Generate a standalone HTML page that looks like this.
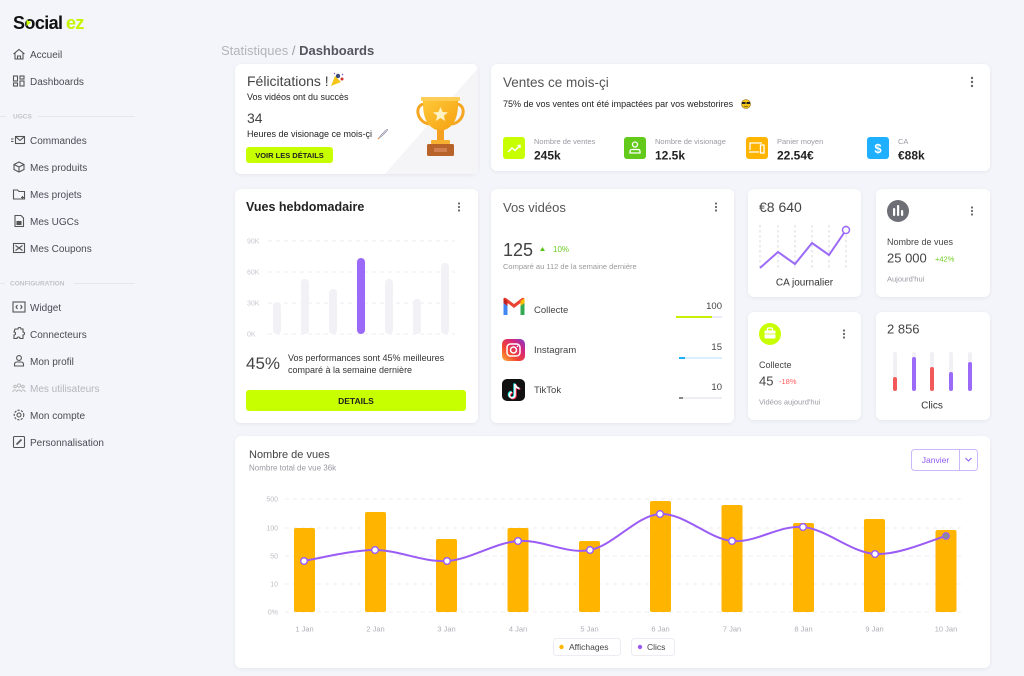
<!DOCTYPE html>
<html><head><meta charset="utf-8">
<style>
html,body{margin:0;padding:0;}
body{width:1024px;height:676px;background:#f4f5fa;position:relative;overflow:hidden;font-family:"Liberation Sans",sans-serif;}
.card{position:absolute;background:#fff;border-radius:6px;box-shadow:0 1px 4px rgba(40,40,80,0.07);}
svg{position:absolute;left:0;top:0;}
svg text{font-family:"Liberation Sans",sans-serif;}
</style></head>
<body>
<div class="card" style="left:235px;top:64px;width:243px;height:110px;overflow:hidden;"></div>
<div class="card" style="left:491px;top:64px;width:499px;height:107px;"></div>
<div class="card" style="left:235px;top:189px;width:243px;height:234px;"></div>
<div class="card" style="left:491px;top:189px;width:243px;height:234px;"></div>
<div class="card" style="left:748px;top:189px;width:113px;height:108px;"></div>
<div class="card" style="left:876px;top:189px;width:114px;height:108px;"></div>
<div class="card" style="left:748px;top:312px;width:113px;height:108px;"></div>
<div class="card" style="left:876px;top:312px;width:114px;height:108px;"></div>
<div class="card" style="left:235px;top:436px;width:755px;height:232px;"></div>

<svg width="1024" height="676" viewBox="0 0 1024 676">
<defs>
<linearGradient id="ig" x1="0" y1="1" x2="1" y2="0">
<stop offset="0" stop-color="#fdb33a"/><stop offset="0.35" stop-color="#f4462f"/><stop offset="0.7" stop-color="#d3257f"/><stop offset="1" stop-color="#7a3fc8"/>
</linearGradient>
<linearGradient id="gold" x1="0" y1="0" x2="1" y2="1">
<stop offset="0" stop-color="#ffc93a"/><stop offset="1" stop-color="#f5a00f"/>
</linearGradient>
</defs>

<!-- SIDEBAR -->
<text x="13" y="29" font-size="18" font-weight="bold" fill="#111" letter-spacing="-0.6">S<tspan fill="#111">o</tspan>cial</text>
<polygon points="26.5,19.5 26.5,26 31,22.8" fill="#c8ff00"/>
<text x="66" y="29" font-size="18" font-weight="bold" fill="#c6f500" letter-spacing="-0.6">ez</text>

<g fill="none" stroke="#555" stroke-width="1.1">
<!-- Accueil -->
<path d="M13.5,54 L19,49.5 L24.5,54 M15,53 V59 H23 V53 M17.5,59 V56 H20.5 V59"/>
<!-- Dashboards -->
<rect x="13.5" y="76" width="4" height="5"/><rect x="13.5" y="83" width="4" height="3"/><rect x="20" y="76" width="4" height="3"/><rect x="20" y="81" width="4" height="5"/>
<!-- Commandes -->
<rect x="15.5" y="136.5" width="9" height="7"/><path d="M15.5,136.5 L20,140.5 L24.5,136.5 M11,139 H13.5 M11,141.5 H13.5"/>
<!-- produits -->
<path d="M19,162 L24,164.5 V169.5 L19,172 L14,169.5 V164.5 Z M14,164.5 L19,167 L24,164.5 M19,167 V172"/>
<!-- projets -->
<path d="M13.5,190 H17.5 L19,191.5 H24.5 V199 H13.5 Z M22.5,196 v3 M21,197.5 h3"/>
<!-- UGCs -->
<path d="M15,215.5 H21 L23.5,218 V226.5 H15 Z"/><rect x="17" y="221.5" width="4" height="3" fill="#555"/>
<!-- Coupons -->
<rect x="13.5" y="243.5" width="11" height="9"/><path d="M15.5,245.5 L22.5,250.5 M22.5,245.5 L15.5,250.5"/>
<!-- Widget -->
<rect x="13" y="302" width="12" height="10"/><path d="M17.5,305 L16,307 L17.5,309 M20.5,305 L22,307 L20.5,309"/>
<!-- Connecteurs -->
<path d="M15,329 H18 A1.5,1.5 0 0 1 21,329 H23 V332 A1.5,1.5 0 0 1 23,335 V338.5 H20 A1.5,1.5 0 0 0 17,338.5 H14 V335 A1.5,1.5 0 0 0 14,332 Z"/>
<!-- Mon profil -->
<circle cx="19" cy="358" r="2.4"/><path d="M14.5,366 V364.5 Q14.5,362 17,362 H21 Q23.5,362 23.5,364.5 V366 Z"/>
</g>
<g fill="none" stroke="#bbb" stroke-width="1">
<circle cx="19" cy="385.5" r="1.6"/><circle cx="15" cy="386.5" r="1.3"/><circle cx="23" cy="386.5" r="1.3"/><path d="M16,392 Q19,388 22,392 M12.5,392 Q14,389.5 15.8,390 M25.5,392 Q24,389.5 22.2,390"/>
</g>
<g fill="none" stroke="#555" stroke-width="1.1">
<circle cx="19" cy="415" r="2"/><circle cx="19" cy="415" r="4.8" stroke-dasharray="2.2 1.3"/>
<rect x="13.5" y="436.5" width="11" height="11" rx="1"/><path d="M16.5,444.5 L21.5,439.5" stroke-width="1.6"/>
</g>

<g font-size="10" fill="#4b4b55">
<text x="30" y="58">Accueil</text>
<text x="30" y="85">Dashboards</text>
<text x="30" y="144">Commandes</text>
<text x="30" y="171">Mes produits</text>
<text x="30" y="198">Mes projets</text>
<text x="30" y="225">Mes UGCs</text>
<text x="30" y="252">Mes Coupons</text>
<text x="30" y="311">Widget</text>
<text x="30" y="338">Connecteurs</text>
<text x="30" y="365">Mon profil</text>
<text x="30" y="392" fill="#b5b5bd">Mes utilisateurs</text>
<text x="30" y="419">Mon compte</text>
<text x="30" y="446">Personnalisation</text>
</g>
<g font-size="6.5" fill="#c2c2c8" font-weight="bold">
<text x="13" y="118.5">UGCS</text>
<text x="10" y="285.5">CONFIGURATION</text>
</g>
<g stroke="#e6e6ec" stroke-width="1">
<line x1="0" y1="116.5" x2="6" y2="116.5"/><line x1="38" y1="116.5" x2="135" y2="116.5"/>
<line x1="0" y1="283.5" x2="5" y2="283.5"/><line x1="74" y1="283.5" x2="135" y2="283.5"/>
</g>

<!-- Breadcrumb -->
<text x="221" y="55" font-size="13" fill="#b3b3bb">Statistiques <tspan fill="#9a9aa3">/</tspan> <tspan fill="#55555e" font-weight="bold">Dashboards</tspan></text>

<!-- CARD 1 -->
<polygon points="385,174 478,174 478,68" fill="#f5f5f8"/>
<text x="247" y="86" font-size="14" fill="#444">Félicitations !</text>
<g transform="translate(331,73)">
<polygon points="0,13 4,3 10,9" fill="#f5c518"/><circle cx="7" cy="3" r="2.2" fill="#3a4a7a"/><circle cx="11" cy="6" r="1.5" fill="#d03030"/><path d="M3,1 l1,-1 M11,1 l1,1" stroke="#7a3fc8" stroke-width="1"/>
</g>
<text x="247" y="100" font-size="9" fill="#222">Vos vidéos ont du succès</text>
<text x="247" y="123" font-size="14" fill="#444">34</text>
<text x="247" y="137" font-size="9" fill="#222">Heures de visionage ce mois-çi</text>
<g transform="translate(378,129)">
<path d="M1,9 L3,6 L7,2 Q9,0 9.5,0.5 Q10,1 8,3 L4,7 Z" fill="#dde" stroke="#8a8aa0" stroke-width="0.6"/><path d="M1,9 L0,10" stroke="#f09030" stroke-width="1.5"/>
</g>
<rect x="246" y="147" width="87" height="16" rx="3" fill="#c8ff00"/>
<text x="289.5" y="158" font-size="7.5" font-weight="bold" fill="#222" text-anchor="middle">VOIR LES DÉTAILS</text>
<!-- trophy -->
<g>
<path d="M425,104 C414,104 416,122 429,124" fill="none" stroke="#f5a623" stroke-width="3"/>
<path d="M456,104 C467,104 465,122 452,124" fill="none" stroke="#f5a623" stroke-width="3"/>
<path d="M423,99 H458 V104 Q458,128 440.5,131 Q423,128 423,104 Z" fill="url(#gold)"/>
<rect x="421" y="97" width="39" height="4" rx="1" fill="#ffcc55"/>
<polygon points="440.5,107 442.6,112 448,112.4 443.8,115.7 445.2,121 440.5,118 435.8,121 437.2,115.7 433,112.4 438.4,112" fill="#fff3c4"/>
<rect x="437" y="130" width="7" height="11" fill="#f5a020"/>
<rect x="431" y="140" width="19" height="4" rx="1" fill="#f7b030"/>
<rect x="427" y="144" width="27" height="12" rx="1.5" fill="#b8632a"/>
<rect x="434" y="148" width="13" height="4" fill="#d08050"/>
</g>

<!-- CARD 2 -->
<text x="503" y="87" font-size="13.5" fill="#555">Ventes ce mois-çi</text>
<g fill="#666"><circle cx="972" cy="78" r="1.2"/><circle cx="972" cy="82" r="1.2"/><circle cx="972" cy="86" r="1.2"/></g>
<text x="503" y="107" font-size="9" fill="#222">75% de vos ventes ont été impactées par vos webstorires</text>
<g transform="translate(746,104)"><circle r="4.5" fill="#f5c518" stroke="#8a6a10" stroke-width="0.6"/><rect x="-4" y="-2" width="3.5" height="2" fill="#222"/><rect x="0.5" y="-2" width="3.5" height="2" fill="#222"/><path d="M-2,2 Q0,3.5 2,2" stroke="#6a4a00" stroke-width="0.7" fill="none"/></g>
<rect x="503" y="137" width="22" height="22" rx="3" fill="#c8ff00"/>
<path d="M508,152 L512,148 L515,150.5 L520,145.5 M517.5,145.5 H520 V148" fill="none" stroke="#fff" stroke-width="1.4"/>
<rect x="624" y="137" width="22" height="22" rx="3" fill="#63c91b"/>
<circle cx="635" cy="144.5" r="2.5" fill="none" stroke="#fff" stroke-width="1.3"/><path d="M630,153 V151.5 Q630,149.5 632,149.5 H638 Q640,149.5 640,151.5 V153 Z" fill="none" stroke="#fff" stroke-width="1.3"/>
<rect x="746" y="137" width="22" height="22" rx="3" fill="#ffb400"/>
<path d="M750,150 V143 H762 M749,152 H759 M760.5,145 H764 V153 H760.5 Z" fill="none" stroke="#fff" stroke-width="1.3"/>
<rect x="867" y="137" width="22" height="22" rx="3" fill="#1eb0ff"/>
<text x="878" y="153" font-size="13" font-weight="bold" fill="#fff" text-anchor="middle">$</text>
<g font-size="7.5" fill="#9a9aa3">
<text x="534" y="144">Nombre de ventes</text>
<text x="655" y="144">Nombre de visionage</text>
<text x="777" y="144">Panier moyen</text>
<text x="898" y="144">CA</text>
</g>
<g font-size="12" font-weight="bold" fill="#222">
<text x="534" y="159.5">245k</text>
<text x="655" y="159.5">12.5k</text>
<text x="777" y="159.5">22.54€</text>
<text x="898" y="159.5">€88k</text>
</g>

<!-- CARD 3 -->
<text x="246" y="211" font-size="12.5" font-weight="bold" fill="#222">Vues hebdomadaire</text>
<g fill="#666"><circle cx="459" cy="203.5" r="1.1"/><circle cx="459" cy="207" r="1.1"/><circle cx="459" cy="210.5" r="1.1"/></g>
<g font-size="7" fill="#c8c8d0">
<text x="247" y="243.5">90K</text><text x="247" y="274.5">60K</text><text x="247" y="305.5">30K</text><text x="247" y="336.5">0K</text>
</g>
<g stroke="#eeeef3" stroke-dasharray="4 4" stroke-width="1">
<line x1="268" y1="241" x2="455" y2="241"/><line x1="268" y1="272" x2="455" y2="272"/><line x1="268" y1="303" x2="455" y2="303"/><line x1="268" y1="334" x2="455" y2="334"/>
</g>
<g fill="#f1f1f6">
<rect x="273" y="302" width="8" height="32" rx="4"/>
<rect x="301" y="279" width="8" height="55" rx="4"/>
<rect x="329" y="289" width="8" height="45" rx="4"/>
<rect x="385" y="279" width="8" height="55" rx="4"/>
<rect x="413" y="299" width="8" height="35" rx="4"/>
<rect x="441" y="263" width="8" height="71" rx="4"/>
</g>
<rect x="357" y="258" width="8" height="76" rx="4" fill="#9b6af8"/>
<text x="246" y="369" font-size="17" fill="#444">45%</text>
<text x="288" y="361" font-size="9" fill="#333">Vos performances sont 45% meilleures</text>
<text x="288" y="373" font-size="9" fill="#333">comparé à la semaine dernière</text>
<rect x="246" y="390" width="220" height="21" rx="3" fill="#c8ff00"/>
<text x="356" y="404" font-size="8.5" font-weight="bold" fill="#222" text-anchor="middle">DETAILS</text>

<!-- CARD 4 -->
<text x="503" y="212" font-size="13" fill="#555">Vos vidéos</text>
<g fill="#666"><circle cx="716" cy="203.5" r="1.1"/><circle cx="716" cy="207" r="1.1"/><circle cx="716" cy="210.5" r="1.1"/></g>
<text x="503" y="256" font-size="18" fill="#444">125</text>
<polygon points="540,251 545,251 542.5,247" fill="#5cc41a"/>
<text x="553" y="252" font-size="8" fill="#6dcc22">10%</text>
<text x="503" y="269" font-size="7.5" fill="#999">Comparé au 112 de la semaine dernière</text>
<!-- gmail -->
<g>
<path d="M503.5,300 V315 H507.5 V304.5" fill="#4285f4"/>
<path d="M520.5,304.5 V315 H524.5 V300" fill="#34a853"/>
<path d="M503.5,300 Q503.5,297 506,298 L514,304 L522,298 Q524.5,297 524.5,300 L514,308 Z" fill="#ea4335"/>
<path d="M520.5,301 L524.5,298 V303 L520.5,306 Z" fill="#fbbc04"/>
<path d="M503.5,298 L507.5,301 V306 L503.5,303 Z" fill="#c5221f"/>
</g>
<text x="534" y="313" font-size="9.5" fill="#444">Collecte</text>
<text x="722" y="309" font-size="9.5" fill="#444" text-anchor="end">100</text>
<rect x="676" y="316" width="46" height="2" fill="#ece8fa"/><rect x="676" y="316" width="36" height="2" fill="#c8f000"/>
<!-- instagram -->
<rect x="502" y="339" width="23" height="22" rx="5" fill="url(#ig)"/>
<rect x="507" y="344" width="13" height="12" rx="3.5" fill="none" stroke="#fff" stroke-width="1.5"/>
<circle cx="513.5" cy="350" r="3" fill="none" stroke="#fff" stroke-width="1.5"/><circle cx="517.5" cy="346.3" r="0.8" fill="#fff"/>
<text x="534" y="353" font-size="9.5" fill="#444">Instagram</text>
<text x="722" y="350" font-size="9.5" fill="#444" text-anchor="end">15</text>
<rect x="679" y="357" width="43" height="2" fill="#d9f0fe"/><rect x="679" y="357" width="6" height="2" fill="#1eb0ff"/>
<!-- tiktok -->
<rect x="502" y="379" width="23" height="22" rx="5" fill="#111"/>
<path d="M515,384 V395 A2.8,2.8 0 1 1 512,392.3 M515,384 Q516,388 519.5,388.5" fill="none" stroke="#25f4ee" stroke-width="1.8" transform="translate(-0.8,-0.6)"/>
<path d="M515,384 V395 A2.8,2.8 0 1 1 512,392.3 M515,384 Q516,388 519.5,388.5" fill="none" stroke="#fe2c55" stroke-width="1.8" transform="translate(0.8,0.6)"/>
<path d="M515,384 V395 A2.8,2.8 0 1 1 512,392.3 M515,384 Q516,388 519.5,388.5" fill="none" stroke="#fff" stroke-width="1.6"/>
<text x="534" y="393" font-size="9.5" fill="#444">TikTok</text>
<text x="722" y="390" font-size="9.5" fill="#444" text-anchor="end">10</text>
<rect x="679" y="397" width="43" height="2" fill="#eeeef2"/><rect x="679" y="397" width="4" height="2" fill="#888"/>

<!-- CARD 5 -->
<text x="759" y="212" font-size="14" fill="#444">€8 640</text>
<g stroke="#cfcfd6" stroke-dasharray="2.5 2.5" stroke-width="0.8">
<line x1="760" y1="225" x2="760" y2="268"/><line x1="778" y1="225" x2="778" y2="268"/><line x1="795" y1="225" x2="795" y2="268"/><line x1="812" y1="225" x2="812" y2="268"/><line x1="829" y1="225" x2="829" y2="268"/><line x1="846" y1="225" x2="846" y2="268"/>
</g>
<polyline points="760,268 778,252 795,264 812,243 829,255 846,230" fill="none" stroke="#9b6af8" stroke-width="2" stroke-linejoin="round"/>
<circle cx="846" cy="230" r="3.5" fill="#fff" stroke="#9b6af8" stroke-width="1.5"/>
<text x="804.5" y="285.5" font-size="10" fill="#333" text-anchor="middle">CA journalier</text>

<!-- CARD 6 -->
<circle cx="898" cy="211" r="11" fill="#6e6e76"/>
<g fill="#fff"><rect x="893" y="208" width="2.2" height="8" rx="1"/><rect x="897" y="205" width="2.2" height="11" rx="1"/><rect x="901" y="210" width="2.2" height="6" rx="1"/></g>
<g fill="#666"><circle cx="972" cy="207.5" r="1.1"/><circle cx="972" cy="211" r="1.1"/><circle cx="972" cy="214.5" r="1.1"/></g>
<text x="887" y="245" font-size="9" fill="#444">Nombre de vues</text>
<text x="887" y="262.5" font-size="13" fill="#444">25 000</text>
<text x="935" y="261.5" font-size="7.5" fill="#6dcc22">+42%</text>
<text x="887" y="281.5" font-size="7.5" fill="#9a9aa3">Aujourd'hui</text>

<!-- CARD 7 -->
<circle cx="770" cy="334" r="11" fill="#c8ff00"/>
<rect x="764.5" y="330.5" width="11" height="8" rx="1" fill="#fff"/><rect x="767.5" y="328" width="5" height="3" rx="0.8" fill="none" stroke="#fff" stroke-width="1.2"/><line x1="764.5" y1="334" x2="775.5" y2="334" stroke="#c8ff00" stroke-width="0.8"/>
<g fill="#666"><circle cx="844" cy="330.5" r="1.1"/><circle cx="844" cy="334" r="1.1"/><circle cx="844" cy="337.5" r="1.1"/></g>
<text x="759" y="368" font-size="9" fill="#444">Collecte</text>
<text x="759" y="385.5" font-size="13" fill="#444">45</text>
<text x="779" y="384" font-size="7.5" fill="#ff5a5a">-18%</text>
<text x="759" y="404.5" font-size="7.5" fill="#9a9aa3">Vidéos aujourd'hui</text>

<!-- CARD 8 -->
<text x="887" y="333.5" font-size="13" fill="#444">2 856</text>
<g fill="#f0f0f5">
<rect x="893" y="352" width="4" height="39" rx="2"/><rect x="912" y="352" width="4" height="39" rx="2"/><rect x="930" y="352" width="4" height="39" rx="2"/><rect x="949" y="352" width="4" height="39" rx="2"/><rect x="968" y="352" width="4" height="39" rx="2"/>
</g>
<rect x="893" y="377" width="4" height="14" rx="2" fill="#f25a5a"/>
<rect x="912" y="357" width="4" height="34" rx="2" fill="#9b6af8"/>
<rect x="930" y="367" width="4" height="24" rx="2" fill="#f25a5a"/>
<rect x="949" y="372" width="4" height="19" rx="2" fill="#9b6af8"/>
<rect x="968" y="362" width="4" height="29" rx="2" fill="#9b6af8"/>
<text x="932" y="408.5" font-size="10" fill="#333" text-anchor="middle">Clics</text>

<!-- CARD 9 -->
<text x="249" y="458" font-size="11" fill="#444">Nombre de vues</text>
<text x="249" y="470.5" font-size="8" fill="#9a9aa3">Nombre total de vue 36k</text>
<rect x="911.5" y="449.5" width="66" height="21" rx="3" fill="#fff" stroke="#cbb8fb" stroke-width="1"/>
<line x1="959.5" y1="449.5" x2="959.5" y2="470.5" stroke="#cbb8fb"/>
<text x="935.5" y="463" font-size="8.5" fill="#8f5cf6" text-anchor="middle">Janvier</text>
<path d="M965.5,458 L968.5,461 L971.5,458" fill="none" stroke="#8f5cf6" stroke-width="1.1"/>
<g font-size="7" fill="#bcbcc4" text-anchor="end">
<text x="278" y="501.5">500</text><text x="278" y="530.5">100</text><text x="278" y="558.5">50</text><text x="278" y="586.5">10</text><text x="278" y="614.5">0%</text>
</g>
<g stroke="#ececf2" stroke-dasharray="4 4" stroke-width="1">
<line x1="285" y1="499" x2="963" y2="499"/><line x1="285" y1="528" x2="963" y2="528"/><line x1="285" y1="556" x2="963" y2="556"/><line x1="285" y1="584" x2="963" y2="584"/><line x1="285" y1="612" x2="963" y2="612"/>
</g>
<g fill="#ffb400">
<rect x="294" y="528" width="21" height="84" rx="2"/>
<rect x="365" y="512" width="21" height="100" rx="2"/>
<rect x="436" y="539" width="21" height="73" rx="2"/>
<rect x="507.5" y="528" width="21" height="84" rx="2"/>
<rect x="579" y="541" width="21" height="71" rx="2"/>
<rect x="650" y="501" width="21" height="111" rx="2"/>
<rect x="721.5" y="505" width="21" height="107" rx="2"/>
<rect x="793" y="523" width="21" height="89" rx="2"/>
<rect x="864" y="519" width="21" height="93" rx="2"/>
<rect x="935.5" y="530" width="21" height="82" rx="2"/>
</g>
<path d="M304,561 C315.8,559.2 351.2,550 375,550 C398.8,550 423.2,562.5 447,561 C470.8,559.5 494.2,542.8 518,541 C541.8,539.2 566.3,554.5 590,550 C613.7,545.5 636.3,515.5 660,514 C683.7,512.5 708.2,538.8 732,541 C755.8,543.2 779.2,524.8 803,527 C826.8,529.2 851.2,552.5 875,554 C898.8,555.5 934.2,539 946,536" fill="none" stroke="#9b5cf6" stroke-width="2"/>
<g fill="#fff" stroke="#9b5cf6" stroke-width="1.4">
<circle cx="304" cy="561" r="3.3"/><circle cx="375" cy="550" r="3.3"/><circle cx="447" cy="561" r="3.3"/><circle cx="518" cy="541" r="3.3"/><circle cx="590" cy="550" r="3.3"/><circle cx="660" cy="514" r="3.3"/><circle cx="732" cy="541" r="3.3"/><circle cx="803" cy="527" r="3.3"/><circle cx="875" cy="554" r="3.3"/>
</g>
<circle cx="946" cy="536" r="3.3" fill="#8a8a94" stroke="#9b5cf6" stroke-width="1.2"/>
<g font-size="7.5" fill="#aeaeb6" text-anchor="middle">
<text x="304.5" y="631.5">1 Jan</text><text x="375.5" y="631.5">2 Jan</text><text x="446.5" y="631.5">3 Jan</text><text x="518" y="631.5">4 Jan</text><text x="589.5" y="631.5">5 Jan</text><text x="660.5" y="631.5">6 Jan</text><text x="732" y="631.5">7 Jan</text><text x="803.5" y="631.5">8 Jan</text><text x="874.5" y="631.5">9 Jan</text><text x="946" y="631.5">10 Jan</text>
</g>
<rect x="553.5" y="638.5" width="67" height="17" rx="3" fill="#fff" stroke="#ececf2"/>
<circle cx="561.5" cy="647" r="2.2" fill="#ffb400"/>
<text x="569" y="650" font-size="8.5" fill="#444">Affichages</text>
<rect x="631.5" y="638.5" width="43" height="17" rx="3" fill="#fff" stroke="#ececf2"/>
<circle cx="640" cy="647" r="2.2" fill="#9b5cf6"/>
<text x="647" y="650" font-size="8.5" fill="#444">Clics</text>
</svg>
</body></html>
